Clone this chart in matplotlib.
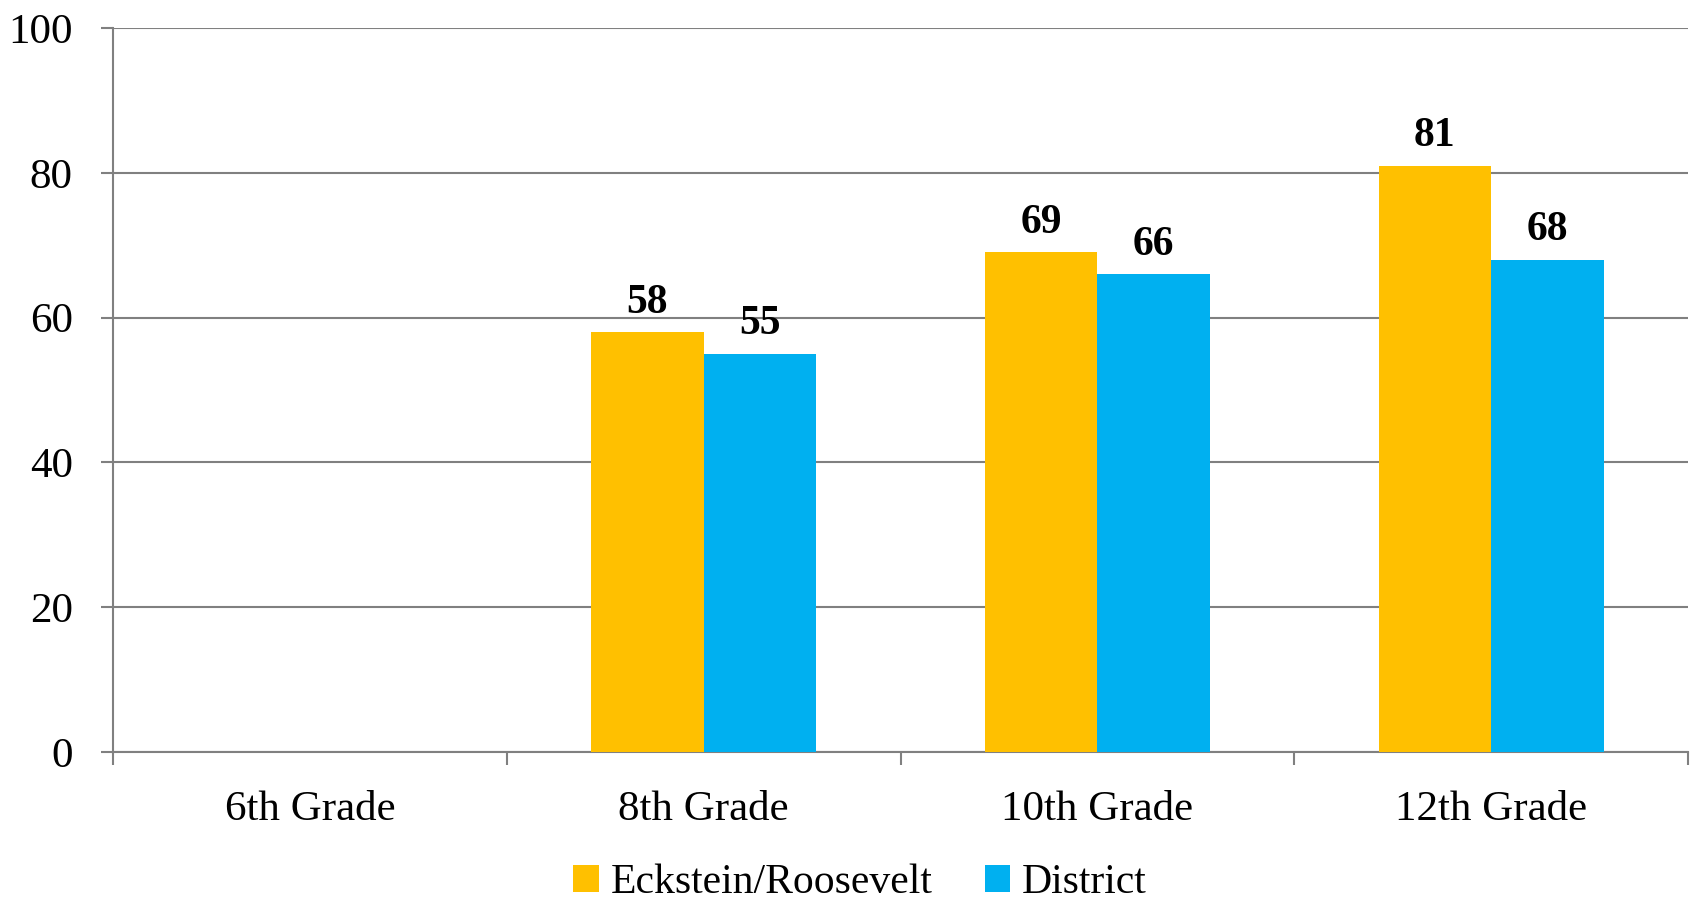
import numpy as np
import matplotlib
matplotlib.use("Agg")
import matplotlib.pyplot as plt
from matplotlib.ticker import FixedLocator

plt.rcParams['font.family'] = ['Liberation Serif', 'DejaVu Serif']

grades = ["6th Grade", "8th Grade", "10th Grade", "12th Grade"]
eckstein = [np.nan, 58, 69, 81]
district = [np.nan, 55, 66, 68]
series_names = ["Eckstein/Roosevelt", "District"]
colors = ["#FFC000", "#00B0F0"]
y_ticks = [0, 20, 40, 60, 80, 100]

fig = plt.figure(figsize=(16.96, 9.02), dpi=100)
ax = fig.add_axes([113 / 1696, 1 - 752 / 902, (1688 - 113) / 1696, (752 - 28) / 902])

x = np.arange(len(grades))
w = 1 / 3.5
grid_col = "#808080"

bars = []
for k, (vals, col) in enumerate(zip([eckstein, district], colors)):
    offs = (k - 0.5) * w
    b = ax.bar(x + offs, vals, width=w, color=col, label=series_names[k], zorder=3)
    bars.append(b)
    for xi, v in zip(x, vals):
        if np.isnan(v):
            continue
        ax.annotate(f"{v:g}", (xi + offs, v), xytext=(0, 14), textcoords="offset points",
                    ha="center", va="baseline", fontsize=30, fontweight="bold", color="black")

ax.set_xlim(-0.5, len(grades) - 0.5)
ax.set_ylim(0, 100)
ax.set_yticks(y_ticks)
ax.set_yticklabels([str(t) for t in y_ticks])
ax.yaxis.grid(True, color=grid_col, linewidth=1.5, zorder=0)
ax.set_axisbelow(True)

ax.set_xticks(x)
ax.set_xticklabels(grades)
ax.xaxis.set_minor_locator(FixedLocator(np.arange(len(grades) + 1) - 0.5))
ax.tick_params(axis="x", which="major", length=0, pad=28, labelsize=31)
ax.tick_params(axis="x", which="minor", length=9, width=1.5, color=grid_col)
ax.tick_params(axis="y", length=9, width=1.5, color=grid_col, pad=20, labelsize=31)

for side in ["top", "right"]:
    ax.spines[side].set_visible(False)
for side in ["left", "bottom"]:
    ax.spines[side].set_color(grid_col)
    ax.spines[side].set_linewidth(1.5)

fig.legend(handles=bars, labels=series_names, loc="center", bbox_to_anchor=(860 / 1696, 1 - 883 / 902),
           ncol=2, frameon=False, fontsize=30, handlelength=0.62, handleheight=0.62,
           handletextpad=0.28, columnspacing=1.25, borderpad=0, borderaxespad=0)

fig.savefig("out.png", dpi=100)
